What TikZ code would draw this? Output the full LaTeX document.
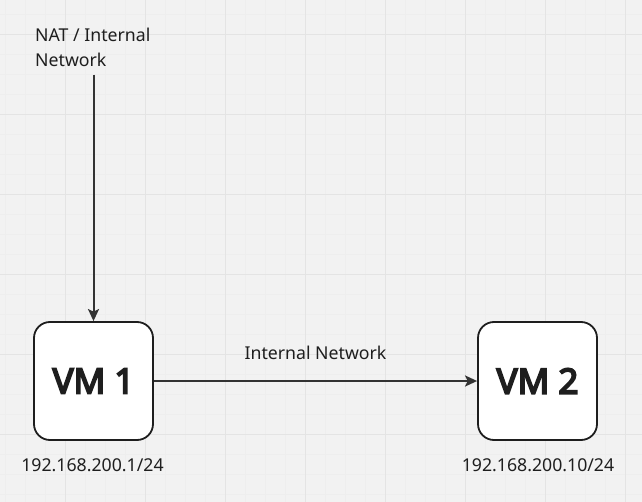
\documentclass[tikz,border=0pt]{standalone}
\usepackage{fontspec}
\setmainfont{Noto Sans}
\newfontfamily\vmfont{Noto Sans}[FakeBold=5]
\usetikzlibrary{arrows.meta}
\definecolor{canvas}{HTML}{F2F2F2}
\definecolor{gridminor}{HTML}{EEEEEE}
\definecolor{gridmajor}{HTML}{E4E4E4}
\definecolor{boxline}{HTML}{1E1E1E}
\definecolor{linegray}{HTML}{333333}
\definecolor{textgray}{HTML}{1E1E1E}

\begin{document}
\begin{tikzpicture}[
    x=1pt, y=-1pt,
    vmbox/.style={draw=boxline, line width=1.8pt, fill=white, rounded corners=16pt,
      minimum width=119pt, minimum height=118pt, text=boxline,
      font=\vmfont\fontsize{35}{40}\selectfont},
    note/.style={font=\fontsize{17.7}{25}\selectfont, text=textgray, inner sep=0pt, align=left},
    conn/.style={draw=linegray, line width=2pt,
      -{Stealth[length=12pt, width=11pt, inset=2.5pt]}},
    ]
    % canvas and grid
    \fill[canvas] (0,0) rectangle (642,502);
    \useasboundingbox (0,0) rectangle (642,502);
    \foreach \gx in {5,25,...,625} \draw[gridminor, line width=0.8pt] (\gx,0) -- (\gx,502);
    \foreach \gy in {14.5,34.5,...,494.5} \draw[gridminor, line width=0.8pt] (0,\gy) -- (642,\gy);
    \foreach \gx in {65,145,...,625} \draw[gridmajor, line width=1pt] (\gx,0) -- (\gx,502);
    \foreach \gy in {34.5,114.5,...,434.5} \draw[gridmajor, line width=1pt] (0,\gy) -- (642,\gy);

    % machines
    \node[vmbox] (vm1) at (93.5,381) {VM 1};
    \node[vmbox] (vm2) at (537.5,381) {VM 2};

    % texts
    \node[note, anchor=north west] (nat) at (35,28) {NAT / Internal\\Network};
    \node[note] (ip1) at (92.5,465) {192.168.200.1/24};
    \node[note] (ip2) at (538,465) {192.168.200.10/24};

    % links
    \draw[conn, shorten <=7.5pt] (nat.south -| vm1.north) -- (vm1.north);
    \draw[conn] (vm1.east) -- (vm2.west)
      node[note, midway, yshift=28pt] (intnet) {Internal Network};
  \end{tikzpicture}
\end{document}
